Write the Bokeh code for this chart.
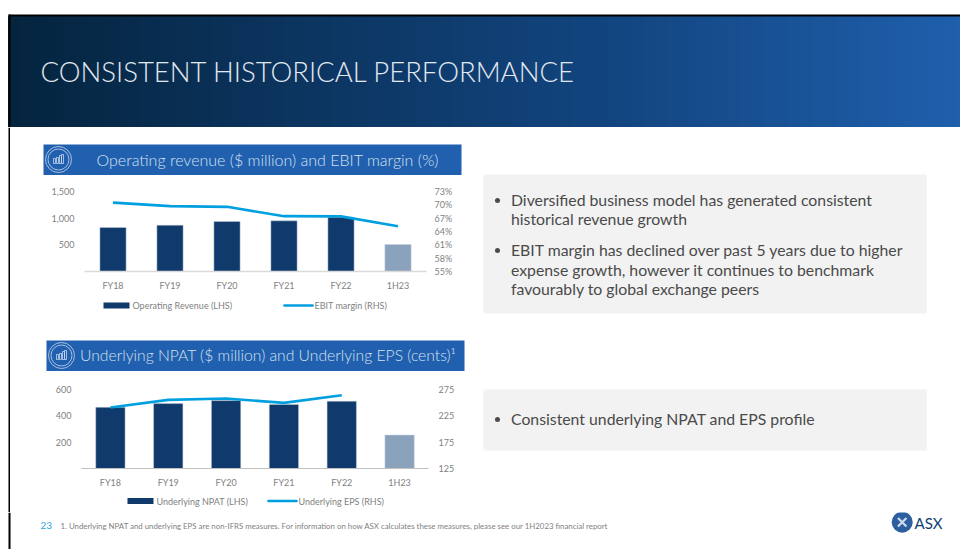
from bokeh.plotting import figure
from bokeh.layouts import column, row
from bokeh.models import Range1d, FactorRange, LinearAxis, FixedTicker, NumeralTickFormatter, PrintfTickFormatter, ColumnDataSource
from bokeh.core.properties import value
from bokeh.embed import file_html
from bokeh.resources import INLINE

# ---------- data ----------
categories = ["FY18", "FY19", "FY20", "FY21", "FY22", "1H23"]
operating_revenue = [825, 869, 937, 950, 1019, 506]
ebit_margin = [70.5, 69.7, 69.55, 67.45, 67.4, 65.2]
underlying_npat = [465, 493, 516, 486, 511, 254]
eps_categories = ["FY18", "FY19", "FY20", "FY21", "FY22"]
underlying_eps = [240.7, 255.3, 257.8, 249.6, 264.2]
rev_ticks = [500, 1000, 1500]
margin_ticks = [55, 58, 61, 64, 67, 70, 73]
npat_ticks = [200, 400, 600]
eps_ticks = [125, 175, 225, 275]
title_text = "CONSISTENT HISTORICAL PERFORMANCE"
banner1_text = "Operating revenue ($ million) and EBIT margin (%)"
banner2_text = "Underlying NPAT ($ million) and Underlying EPS (cents)¹"
box1_lines = ["Diversified business model has generated consistent", "historical revenue growth",
              "EBIT margin has declined over past 5 years due to higher", "expense growth, however it continues to benchmark",
              "favourably to global exchange peers"]
box2_lines = ["Consistent underlying NPAT and EPS profile"]
footnote = "1. Underlying NPAT and underlying EPS are non-IFRS measures. For information on how ASX calculates these measures, please see our 1H2023 financial report"

FONT = "Lato"
LIGHT = "Lato Light"
NAVY, PALE, CYAN = "#0f3a6b", "#8ba2bc", "#00a0e0"
BLUE = "#2160ae"
GREY = "#7f7f7f"


def canvas(x0, x1, y0, y1):
    """A bare figure whose data coordinates equal page pixels."""
    p = figure(width=x1 - x0, height=y1 - y0, x_range=Range1d(x0, x1), y_range=Range1d(y1, y0),
               toolbar_location=None, output_backend="svg", min_border=0, outline_line_color=None)
    p.axis.visible = False
    p.grid.visible = False
    return p


def label(p, x, y, s, size, color, align="left", font=FONT):
    p.text([x], [y - 1], text=[s], text_font=value(font), text_font_size=f"{size}px", text_color=color,
           text_align=align, text_baseline="middle")


def mix(a, b, t):
    return tuple(a[i] + (b[i] - a[i]) * t for i in range(3))


# ---------- header ----------
header = canvas(0, 960, 0, 127)
stops = [(8, (5, 37, 63)), (300, (12, 53, 96)), (600, (18, 69, 127)), (966, (32, 96, 174))]
xs = list(range(8, 960, 6))
cols = []
for x in xs:
    for (xa, ca), (xb, cb) in zip(stops, stops[1:]):
        if xa <= x <= xb:
            c = mix(ca, cb, (x - xa) / (xb - xa))
            cols.append("#%02x%02x%02x" % tuple(int(v) for v in c))
            break
header.quad(left=xs, right=[x + 6 for x in xs], top=[16] * len(xs), bottom=[127] * len(xs), fill_color=cols, line_color=cols)
header.quad(left=[8], right=[960], top=[14], bottom=[16], fill_color="#000000", line_color=None)
header.quad(left=[8], right=[10], top=[14], bottom=[127], fill_color="#000000", line_color=None)
label(header, 40, 72, title_text, 27.5, "#e4e9f0", font=LIGHT)

strip = canvas(0, 10, 127, 512)
strip.quad(left=[8], right=[10], top=[127], bottom=[512], fill_color="#000000", line_color=None)


def icon(p, cx, cy):
    for size in (26, 21):
        p.scatter([cx], [cy], size=size, marker="circle", fill_color=None, line_color="#c9d8ec", line_width=0.8)
    p.quad(left=[cx - 5, cx - 2, cx + 1, cx + 3], right=[cx - 3, cx, cx + 3, cx + 5],
           top=[cy - 1, cy - 2, cy - 4, cy - 5], bottom=[cy + 4] * 4, fill_color=None, line_color="#c9d8ec", line_width=0.8)


def banner(x0, x1, y0, y1, bx0, bx1, by0, by1, s, tx, size, icx, icy):
    p = canvas(x0, x1, y0, y1)
    p.quad(left=[bx0], right=[bx1], top=[by0], bottom=[by1], fill_color=BLUE, line_color=None)
    icon(p, icx, icy)
    label(p, tx, (by0 + by1) / 2, s, size, "#d5e0ef", font=LIGHT)
    return p


banner1 = banner(10, 480, 127, 175, 43, 461, 144, 175, banner1_text, 96, 16, 58, 159)
banner2 = banner(10, 480, 330, 371, 46, 464, 340, 371, banner2_text, 79.5, 15.7, 61, 355)


def chart(height, frame_w, frame_h, left, top, bottom, bars, bar_w, ymax, lticks, lfmt,
          lx, lv, lmin, lmax, rticks, rfmt, base_color, base_width, rstand):
    p = figure(width=470, height=height, frame_width=frame_w, frame_height=frame_h,
               x_range=FactorRange(*categories, range_padding=0), y_range=Range1d(0, ymax),
               toolbar_location=None, output_backend="svg", outline_line_color=None,
               min_border_left=left, min_border_right=470 - left - frame_w,
               min_border_top=top, min_border_bottom=bottom)
    p.extra_y_ranges = {"rhs": Range1d(lmin, lmax)}
    p.grid.visible = False
    src = ColumnDataSource(dict(x=categories, y=bars, c=[NAVY] * 5 + [PALE]))
    p.vbar(x="x", top="y", width=bar_w, source=src, fill_color="c", line_color="#c5d0de", line_width=0.5)
    p.line(lx, lv, y_range_name="rhs", line_color=CYAN, line_width=2.6, line_join="round")
    right = LinearAxis(y_range_name="rhs")
    p.add_layout(right, "right")
    for ax in (p.yaxis[0], right, p.xaxis[0]):
        ax.major_tick_line_color = None
        ax.minor_tick_line_color = None
        ax.major_tick_out = 0
        ax.major_tick_in = 0
        ax.minor_tick_out = 0
        ax.minor_tick_in = 0
        ax.major_label_standoff = 10
        ax.major_label_text_font = FONT
        ax.major_label_text_font_size = "9px"
        ax.major_label_text_color = GREY
    for ax in (p.yaxis[0], right):
        ax.axis_line_color = None
    right.major_label_standoff = rstand
    p.yaxis[0].ticker = FixedTicker(ticks=lticks)
    p.yaxis[0].formatter = lfmt
    right.ticker = FixedTicker(ticks=rticks)
    right.formatter = rfmt
    xa = p.xaxis[0]
    xa.axis_line_color = base_color
    xa.axis_line_width = base_width
    xa.major_label_standoff = 8
    return p


def legend_strip(y0, y1, bar_name, line_name, bx, lx, ly):
    p = canvas(10, 480, y0, y1)
    p.quad(left=[bx], right=[bx + 26], top=[ly - 3], bottom=[ly + 3], fill_color=NAVY, line_color=None)
    label(p, bx + 29, ly + 1, bar_name, 9, GREY)
    p.line([lx, lx + 28], [ly, ly], line_color=CYAN, line_width=2.6, line_cap="round")
    label(p, lx + 30, ly + 1, line_name, 9, GREY)
    return p


chart1 = chart(120, 342, 80, 74, 16, 24, operating_revenue, 0.46, 1500, rev_ticks, NumeralTickFormatter(format="0,0"),
               categories, ebit_margin, 55, 73, margin_ticks, PrintfTickFormatter(format="%d%%"), "#d9d9d9", 1.5, 8)
chart2 = chart(121, 347, 79, 71, 18, 24, underlying_npat, 0.507, 600, npat_ticks, NumeralTickFormatter(format="0"),
               eps_categories, underlying_eps, 125, 275, eps_ticks, PrintfTickFormatter(format="%d"), "#bfbfbf", 1, 10)
legend1 = legend_strip(295, 330, "Operating Revenue (LHS)", "EBIT margin (RHS)", 103, 284, 305)
legend2 = legend_strip(492, 512, "Underlying NPAT (LHS)", "Underlying EPS (RHS)", 127, 268, 500.5)

# ---------- right-hand text boxes ----------
right_fig = canvas(480, 960, 127, 512)
BOX = "#f2f2f2"
right_fig.quad(left=[483, 483], right=[926, 926], top=[174, 389], bottom=[313, 450], fill_color=BOX, line_color=None)
TEXT = "#4a4a4a"
for yy, s in zip([200, 219, 250, 270, 289], box1_lines):
    label(right_fig, 510.5, yy, s, 15.8, TEXT)
label(right_fig, 510.5, 419, box2_lines[0], 15.8, TEXT)
for yy in (200, 250, 419):
    right_fig.scatter([497], [yy], size=5, marker="circle", fill_color=TEXT, line_color=None)

# ---------- footer ----------
footer = canvas(0, 960, 512, 549)
footer.quad(left=[8], right=[10], top=[512], bottom=[549], fill_color="#000000", line_color=None)
label(footer, 40, 526, "23", 10, "#29a8e0")
label(footer, 60, 526, footnote, 7.85, GREY)
footer.scatter([901.7], [521.7], size=21, marker="circle", fill_color="#2c5f9f", line_color=None)
footer.scatter([901.7], [521.7], size=12, marker="x", fill_color=None, line_color="#cfdcec", line_width=2.2)
label(footer, 914, 523, "ASX", 15, "#123f73")

left_col = column(row(banner1), row(chart1), row(legend1), row(banner2), row(chart2), row(legend2), spacing=0)
page = column(header, row(strip, left_col, right_fig, spacing=0), footer, spacing=0)
open("out.html", "w").write(file_html(page, INLINE))
